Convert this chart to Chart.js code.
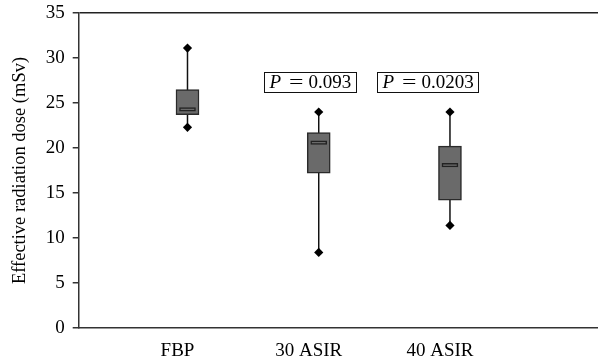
<!DOCTYPE html>
<html>
<head>
<meta charset="utf-8">
<script src="https://cdn.jsdelivr.net/npm/chart.js@4.4.1/dist/chart.umd.min.js"></script>
<style>
  body { margin: 0; background: #fff; }
  #wrap { width: 598px; height: 362px; position: relative; }
</style>
</head>
<body>
<div id="wrap"><canvas id="chart"></canvas></div>
<script>
// Box plot data (mSv)
const categories = ['FBP', '30 ASIR', '40 ASIR'];
const mins    = [22.3, 8.4, 11.4];
const q1s     = [23.7, 17.2, 14.2];
const medians = [24.3, 20.6, 18.1];
const q3s     = [26.5, 21.7, 20.2];
const maxs    = [31.1, 24.0, 24.0];
const pLabels = [null, '0.093', '0.0203'];
const yTicks  = [0, 5, 10, 15, 20, 25, 30, 35];

const serif = '"Liberation Serif", "DejaVu Serif", serif';

// whisker segments, one gap between each category
const whiskerPts = [];
categories.forEach((c, i) => {
  whiskerPts.push({ x: i + 1, y: mins[i] });
  whiskerPts.push({ x: i + 1, y: maxs[i] });
  whiskerPts.push({ x: i + 1, y: null });
});

const endPts = [];
categories.forEach((c, i) => {
  endPts.push({ x: i + 1, y: mins[i] });
  endPts.push({ x: i + 1, y: maxs[i] });
});

// P value boxes drawn above the boxes
const pValuePlugin = {
  id: 'pValues',
  afterDatasetsDraw(chart) {
    const ctx = chart.ctx;
    const xs = chart.scales.x, ys = chart.scales.y;
    const shift = [0, -9, -22];
    const eqStretch = 1.35;
    ctx.save();
    ctx.textBaseline = 'middle';
    pLabels.forEach((lbl, i) => {
      if (!lbl) return;
      const italic = 'italic 19px ' + serif;
      const normal = '19px ' + serif;
      ctx.font = italic;
      const wP = ctx.measureText('P').width;
      ctx.font = normal;
      const wEq = ctx.measureText('=').width * eqStretch;
      const wN = ctx.measureText(lbl).width;
      const w = 5 + wP + 8 + wEq + 5 + wN + 5;
      const cx = xs.getPixelForValue(i + 1) + shift[i];
      const cy = Math.round(ys.getPixelForValue(27.3));
      const left = Math.round(cx - w / 2) + 0.5;
      ctx.fillStyle = '#fff';
      ctx.fillRect(left, cy - 10, w, 20);
      ctx.strokeStyle = '#111';
      ctx.lineWidth = 1;
      ctx.strokeRect(left, cy - 9.5, Math.round(w), 20);
      ctx.fillStyle = '#000';
      let tx = left + 5;
      ctx.font = italic;
      ctx.fillText('P', tx, cy + 1);
      tx += wP + 8;
      ctx.font = normal;
      ctx.save();
      ctx.translate(tx, cy + 1);
      ctx.scale(eqStretch, 1);
      ctx.fillText('=', 0, 0);
      ctx.restore();
      tx += wEq + 5;
      ctx.fillText(lbl, tx, cy + 1);
    });
    ctx.restore();
  }
};

new Chart(document.getElementById('chart'), {
  type: 'scatter',
  data: {
    datasets: [
      {
        type: 'scatter',
        data: endPts,
        pointStyle: 'rectRot',
        pointRadius: 4.6,
        backgroundColor: '#000',
        borderColor: '#000',
        borderWidth: 0,
        order: 0
      },
      {
        type: 'bar',
        data: medians.map((m, i) => ({ x: i + 1, y: [m - 0.2, m + 0.2] })),
        backgroundColor: '#6a6a6a',
        borderColor: '#222',
        borderWidth: 1.5,
        borderSkipped: false,
        barThickness: 16,
        grouped: false,
        order: 1
      },
      {
        type: 'bar',
        data: q1s.map((q, i) => ({ x: i + 1, y: [q, q3s[i]] })),
        backgroundColor: '#6a6a6a',
        borderColor: '#2a2a2a',
        borderWidth: 1.5,
        borderSkipped: false,
        barThickness: 23,
        grouped: false,
        order: 2
      },
      {
        type: 'line',
        data: whiskerPts,
        borderColor: '#111',
        borderWidth: 1.5,
        pointRadius: 0,
        spanGaps: false,
        fill: false,
        order: 3
      }
    ]
  },
  options: {
    responsive: true,
    maintainAspectRatio: false,
    animation: false,
    layout: { autoPadding: false, padding: { top: 13, right: 0, left: 0, bottom: 0 } },
    plugins: {
      legend: { display: false },
      tooltip: { enabled: false }
    },
    scales: {
      x: {
        type: 'linear',
        offset: false,
        min: 0.171,
        max: 4.128,
        afterBuildTicks: (scale) => { scale.ticks = categories.map((c, i) => ({ value: i + 1 })); },
        afterFit: (scale) => {
          scale.height = 34;
          scale.paddingLeft = 0;
          scale.paddingRight = 0;
        },
        ticks: {
          callback: (v) => categories[v - 1],
          color: '#000',
          font: { family: serif, size: 19 },
          padding: 12,
          labelOffset: -10,
          maxRotation: 0,
          autoSkip: false
        },
        grid: { display: false, drawTicks: false, offset: false },
        border: { display: true, color: '#333', width: 1.5 }
      },
      y: {
        min: 0,
        max: 35,
        afterBuildTicks: (scale) => { scale.ticks = yTicks.map(v => ({ value: v })); },
        afterFit: (scale) => {
          scale.width = 78.7;
          scale.paddingTop = 0;
          scale.paddingBottom = 0;
        },
        ticks: {
          color: '#000',
          font: { family: serif, size: 19 },
          padding: 8
        },
        grid: {
          color: (c) => (c.tick && c.tick.value === 35 ? '#222' : 'rgba(0,0,0,0)'),
          tickColor: '#333',
          tickLength: 6,
          lineWidth: 1.5
        },
        border: { display: true, color: '#333', width: 1.5 },
        title: {
          display: true,
          text: 'Effective radiation dose (mSv)',
          color: '#000',
          font: { family: serif, size: 18.5 },
          padding: { top: 9, bottom: 0 }
        }
      }
    }
  },
  plugins: [pValuePlugin]
});
</script>
</body>
</html>
